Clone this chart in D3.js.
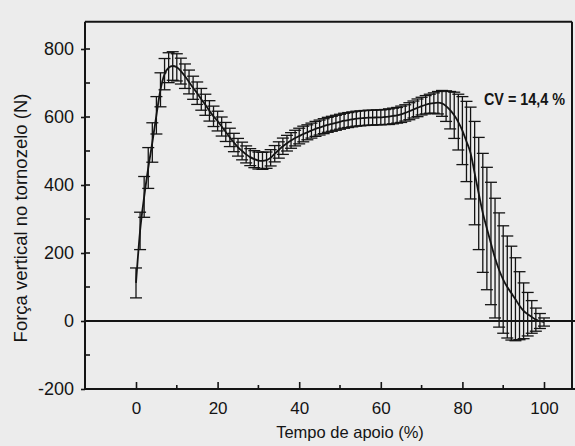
<!DOCTYPE html>
<html>
<head>
<meta charset="utf-8">
<script src="https://cdn.jsdelivr.net/npm/d3@7"></script>
<style>
  body { margin: 0; background: #ececec; }
  svg { display: block; font-family: "Liberation Sans", Arial, Helvetica, sans-serif; }
</style>
</head>
<body>
<svg id="chart" width="575" height="446"></svg>
<script>
// stance time (%) and ankle vertical force (N), mean and SD
const stancePct = [
  0, 1, 2, 3, 4, 5, 6, 7, 8, 9, 10, 11, 12, 13, 14, 15, 16, 17, 18, 19,
  20, 21, 22, 23, 24, 25, 26, 27, 28, 29, 30, 31, 32, 33, 34, 35, 36, 37, 38, 39,
  40, 41, 42, 43, 44, 45, 46, 47, 48, 49, 50, 51, 52, 53, 54, 55, 56, 57, 58, 59,
  60, 61, 62, 63, 64, 65, 66, 67, 68, 69, 70, 71, 72, 73, 74, 75, 76, 77, 78, 79,
  80, 81, 82, 83, 84, 85, 86, 87, 88, 89, 90, 91, 92, 93, 94, 95, 96, 97, 98, 99, 100
];
const meanForce = [
  112, 265, 365, 450, 525, 605, 680, 726, 745, 750, 746, 735, 720, 703, 686, 670, 652, 636, 618, 602,
  588, 572, 556, 540, 525, 511, 500, 490, 482, 476, 472, 471, 473, 480, 492, 503, 514, 523, 531, 538,
  544, 550, 555, 560, 565, 569, 573, 577, 580, 583, 586, 589, 591, 593, 595, 596, 597, 598, 598, 599,
  599, 600, 601, 603, 605, 608, 612, 617, 622, 627, 632, 636, 639, 641, 642, 640, 632, 620, 605, 585,
  560, 528, 494, 435, 375, 318, 272, 228, 185, 150, 122, 100, 82, 64, 45, 30, 20, 12, 4, 0, -3
];
const sdForce = [
  44, 55, 60, 60, 58, 55, 50, 46, 44, 42, 40, 38, 36, 35, 34, 33, 32, 31, 30, 30,
  29, 28, 28, 27, 27, 26, 26, 25, 25, 25, 25, 25, 24, 24, 24, 24, 24, 23, 23, 23,
  23, 23, 22, 22, 22, 22, 22, 22, 22, 22, 22, 22, 22, 22, 22, 22, 22, 22, 22, 22,
  22, 22, 23, 23, 23, 24, 24, 25, 25, 26, 26, 27, 28, 30, 33, 38, 45, 55, 68, 82,
  100, 118, 135, 152, 165, 175, 180, 180, 176, 168, 158, 150, 138, 122, 100, 82, 64, 48, 34, 22, 12
];

const xTicks = [0, 20, 40, 60, 80, 100];
const xMinor = [10, 30, 50, 70, 90];
const yTicks = [-200, 0, 200, 400, 600, 800];
const yMinor = [-100, 100, 300, 500, 700];
const cvLabel = "CV = 14,4 %";

const svg = d3.select("#chart");
const ink = "#141414";

// frame edges in pixels
const frameLeft = 85, frameRight = 572, frameBottom = 389;

const x = d3.scaleLinear().domain([0, 100]).range([136, 544]);
const y = d3.scaleLinear().domain([-200, 800]).range([frameBottom, 49]);
const frameTop = y(880);

const points = stancePct.map((p, i) => ({ p: p, m: meanForce[i], s: sdForce[i] }));

// error bars
const bars = svg.append("g")
  .attr("stroke", ink)
  .attr("stroke-width", 1.3);

bars.selectAll(".bar")
  .data(points)
  .enter().append("line")
  .attr("class", "bar")
  .attr("x1", d => x(d.p))
  .attr("x2", d => x(d.p))
  .attr("y1", d => y(d.m - d.s))
  .attr("y2", d => y(d.m + d.s));

bars.selectAll(".capTop")
  .data(points)
  .enter().append("line")
  .attr("class", "capTop")
  .attr("x1", d => x(d.p) - 6)
  .attr("x2", d => x(d.p) + 6)
  .attr("y1", d => y(d.m + d.s))
  .attr("y2", d => y(d.m + d.s));

bars.selectAll(".capBottom")
  .data(points)
  .enter().append("line")
  .attr("class", "capBottom")
  .attr("x1", d => x(d.p) - 6)
  .attr("x2", d => x(d.p) + 6)
  .attr("y1", d => y(d.m - d.s))
  .attr("y2", d => y(d.m - d.s));

// mean curve
const meanLine = d3.line()
  .x(d => x(d.p))
  .y(d => y(d.m))
  .curve(d3.curveMonotoneX);

svg.append("path")
  .datum(points)
  .attr("fill", "none")
  .attr("stroke", ink)
  .attr("stroke-width", 1.8)
  .attr("d", meanLine);

// zero line
svg.append("line")
  .attr("x1", frameLeft).attr("x2", 575)
  .attr("y1", y(0)).attr("y2", y(0))
  .attr("stroke", ink)
  .attr("stroke-width", 2);

// frame
const frame = svg.append("g").attr("stroke", ink).attr("stroke-width", 2).attr("fill", "none");
frame.append("line").attr("x1", frameLeft).attr("x2", frameRight).attr("y1", frameTop).attr("y2", frameTop);
frame.append("line").attr("x1", frameRight).attr("x2", frameRight).attr("y1", frameTop).attr("y2", frameBottom);

// x axis
const xAxis = svg.append("g")
  .attr("transform", `translate(0,${frameBottom})`)
  .call(d3.axisBottom(x).tickValues(xTicks).tickFormat(d => String(d))
    .tickSizeInner(-7).tickSizeOuter(0).tickPadding(13));
xAxis.select(".domain").remove();
xAxis.selectAll(".tick line").attr("stroke", ink).attr("stroke-width", 1.6);
xAxis.selectAll("text").attr("fill", ink).style("font-size", "17px");

svg.append("g").selectAll("line")
  .data(xMinor)
  .enter().append("line")
  .attr("x1", d => x(d)).attr("x2", d => x(d))
  .attr("y1", frameBottom).attr("y2", frameBottom - 4)
  .attr("stroke", ink).attr("stroke-width", 1.6);

svg.append("line")
  .attr("x1", frameLeft).attr("x2", 575)
  .attr("y1", frameBottom).attr("y2", frameBottom)
  .attr("stroke", ink).attr("stroke-width", 2);

// y axis
const yAxis = svg.append("g")
  .attr("transform", `translate(${frameLeft},0)`)
  .call(d3.axisLeft(y).tickValues(yTicks).tickFormat(d => String(d))
    .tickSizeInner(4).tickSizeOuter(0).tickPadding(7));
yAxis.select(".domain").remove();
yAxis.selectAll(".tick line").attr("stroke", ink).attr("stroke-width", 1.6);
yAxis.selectAll("text").attr("fill", ink).style("font-size", "18px");

svg.append("g").selectAll("line")
  .data(yTicks.concat(yMinor))
  .enter().append("line")
  .attr("x1", frameLeft).attr("x2", frameLeft + 5)
  .attr("y1", d => y(d)).attr("y2", d => y(d))
  .attr("stroke", ink).attr("stroke-width", 1.6);

svg.append("line")
  .attr("x1", frameLeft).attr("x2", frameLeft)
  .attr("y1", frameTop).attr("y2", frameBottom + 1)
  .attr("stroke", ink).attr("stroke-width", 2);

// labels
svg.append("text")
  .attr("x", 350)
  .attr("y", 438)
  .attr("text-anchor", "middle")
  .attr("fill", ink)
  .style("font-size", "16.5px")
  .text("Tempo de apoio (%)");

svg.append("text")
  .attr("transform", "translate(27,218) rotate(-90)")
  .attr("text-anchor", "middle")
  .attr("fill", ink)
  .style("font-size", "18.5px")
  .text("Força vertical no tornozelo (N)");

svg.append("text")
  .attr("x", 484)
  .attr("y", 105)
  .attr("fill", ink)
  .attr("textLength", 81)
  .attr("lengthAdjust", "spacingAndGlyphs")
  .style("font-weight", "bold")
  .style("font-size", "16px")
  .text(cvLabel);
</script>
</body>
</html>
